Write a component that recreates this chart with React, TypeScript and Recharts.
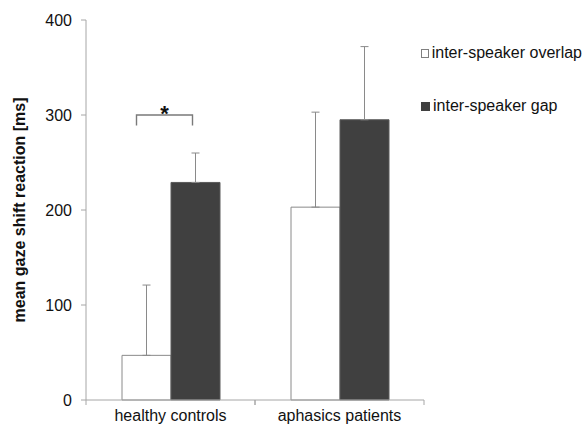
import React from 'react';
import { BarChart, Bar, XAxis, YAxis, ErrorBar, Legend, LabelList } from 'recharts';

const categories = ['healthy controls', 'aphasics patients'];
const overlapMeans = [47, 203];
const overlapErrors = [74, 100];
const gapMeans = [229, 295];
const gapErrors = [31, 77];
const yTicks = [0, 100, 200, 300, 400];
const seriesNames = ['inter-speaker overlap', 'inter-speaker gap'];
const significance = { categoryIndex: 0, level: 300, legDrop: 11, mark: '*' };

const data = categories.map((c, i) => ({
  name: c,
  overlap: overlapMeans[i],
  overlapErr: [0, overlapErrors[i]],
  gap: gapMeans[i],
  gapErr: [0, gapErrors[i]],
}));

const FONT = '"Liberation Sans", Arial, sans-serif';
const AXIS = '#a6a6a6';
const TEXT = '#111111';
const DARK = '#404040';

const XTick = (props: any) => {
  const { x, y, payload } = props;
  const off = payload.offset || 0;
  return (
    <g>
      <line x1={x - off} x2={x - off} y1={y} y2={y + 5} stroke={AXIS} />
      <line x1={x + off} x2={x + off} y1={y} y2={y + 5} stroke={AXIS} />
      <text x={x} y={y + 21} textAnchor="middle" fontFamily={FONT} fontSize={16} fill={TEXT}>
        {payload.value}
      </text>
    </g>
  );
};

const Bracket = (props: any) => {
  const { x, y, width, height, value, index } = props;
  if (index !== significance.categoryIndex) return null;
  const px = height / value;
  const base = y + height;
  const yTop = base - significance.level * px;
  const yLeg = base - (significance.level - significance.legDrop) * px;
  const left = x - width / 2 - 10;
  const right = x + width / 2 - 3;
  return (
    <g>
      <path d={`M${left},${yLeg} L${left},${yTop} L${right},${yTop} L${right},${yLeg}`} fill="none" stroke="#7a7a7a" strokeWidth={1.4} />
      <text x={(left + right) / 2} y={yTop + 6} textAnchor="middle" fontFamily={FONT} fontWeight="bold" fontSize={22} fill={TEXT}>
        {significance.mark}
      </text>
    </g>
  );
};

const LegendContent = () => (
  <div style={{ fontFamily: FONT, fontSize: 16, color: TEXT }}>
    {seriesNames.map((n, i) => (
      <div key={n} style={{ display: 'flex', alignItems: 'center', height: 20, marginBottom: 33, whiteSpace: 'nowrap' }}>
        <span
          style={{
            display: 'inline-block',
            width: 9,
            height: 9,
            boxSizing: 'border-box',
            background: i === 0 ? '#fff' : DARK,
            border: `1px solid ${i === 0 ? '#808080' : DARK}`,
            marginRight: 3,
          }}
        />
        <span>{n}</span>
      </div>
    ))}
  </div>
);

export default function App() {
  return (
    <div style={{ position: 'absolute', left: 0, top: 0 }}>
      <BarChart
        width={582}
        height={425}
        data={data}
        margin={{ top: 20, right: 158, left: 0, bottom: 0 }}
        barCategoryGap={36}
        barGap={0}
      >
        <XAxis
          dataKey="name"
          height={25}
          axisLine={{ stroke: AXIS }}
          tickLine={false}
          tickSize={0}
          tickMargin={0}
          tick={<XTick />}
          interval={0}
        />
        <YAxis
          width={86}
          domain={[0, 400]}
          ticks={yTicks}
          axisLine={{ stroke: AXIS }}
          tickLine={{ stroke: AXIS }}
          tickSize={5}
          tickMargin={9}
          tick={{ fontFamily: FONT, fontSize: 16, fill: TEXT }}
          label={{
            value: 'mean gaze shift reaction [ms]',
            angle: -90,
            position: 'insideLeft',
            dx: 14,
            style: { fontFamily: FONT, fontSize: 16, fontWeight: 'bold', fill: TEXT, textAnchor: 'middle' },
          }}
        />
        <Legend
          layout="vertical"
          align="center"
          verticalAlign="middle"
          content={<LegendContent />}
          wrapperStyle={{ position: 'absolute', left: 421, top: 43, width: 161 }}
        />
        <Bar dataKey="overlap" name={seriesNames[0]} fill="#ffffff" stroke="#8a8a8a" strokeWidth={1} isAnimationActive={false}>
          <ErrorBar dataKey="overlapErr" width={4} stroke="#8a8a8a" strokeWidth={1} direction="y" />
        </Bar>
        <Bar dataKey="gap" name={seriesNames[1]} fill={DARK} stroke="#5a5a5a" strokeWidth={1} isAnimationActive={false}>
          <ErrorBar dataKey="gapErr" width={4} stroke="#8a8a8a" strokeWidth={1} direction="y" />
          <LabelList dataKey="gap" content={<Bracket />} />
        </Bar>
      </BarChart>
    </div>
  );
}
